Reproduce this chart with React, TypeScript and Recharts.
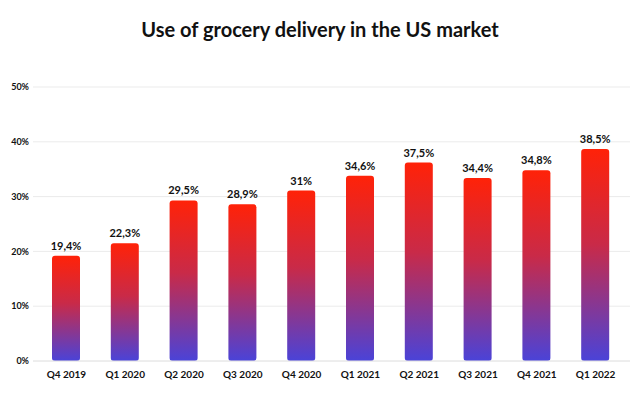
import React from "react";
import { BarChart, Bar, XAxis, YAxis, CartesianGrid, LabelList } from "recharts";

const quarters = ["Q4 2019", "Q1 2020", "Q2 2020", "Q3 2020", "Q4 2020", "Q1 2021", "Q2 2021", "Q3 2021", "Q4 2021", "Q1 2022"];
const barValues = [19.2, 21.5, 29.3, 28.6, 31.1, 33.8, 36.2, 33.4, 34.8, 38.7];
const labelTexts = ["19,4%", "22,3%", "29,5%", "28,9%", "31%", "34,6%", "37,5%", "34,4%", "34,8%", "38,5%"];
const yTicks = [0, 10, 20, 30, 40, 50];

const data = quarters.map((q, i) => ({ q, v: barValues[i], label: labelTexts[i] }));

const FONT = "Lato, 'Open Sans', sans-serif";

export default function App() {
  return (
    <div style={{ position: "absolute", left: 0, top: 0, width: 640, height: 396, background: "#fff", fontFamily: FONT }}>
      <div
        style={{
          position: "absolute",
          left: 0,
          top: 17,
          width: 640,
          textAlign: "center",
          fontSize: 20,
          fontWeight: 700,
          color: "#111",
          fontFamily: FONT,
        }}
      >
        Use of grocery delivery in the US market
      </div>
      <BarChart
        width={640}
        height={396}
        data={data}
        margin={{ top: 87, right: 10, bottom: 5, left: 0 }}
        barCategoryGap="26%"
      >
        <defs>
          <linearGradient id="barGrad" x1="0" y1="0" x2="0" y2="1">
            <stop offset="0%" stopColor="#ff2208" />
            <stop offset="45%" stopColor="#c92a48" />
            <stop offset="100%" stopColor="#4a43d8" />
          </linearGradient>
        </defs>
        <CartesianGrid vertical={false} stroke="#ebebeb" />
        <XAxis
          dataKey="q"
          tickLine={false}
          axisLine={{ stroke: "#e6e6e6" }}
          tickSize={0}
          tickMargin={10}
          height={30}
          padding={{ left: 4, right: 5 }}
          tick={{ fontSize: 10, fontWeight: 700, fill: "#111", fontFamily: FONT }}
          interval={0}
        />
        <YAxis
          domain={[0, 50]}
          ticks={yTicks}
          tickFormatter={(v: number) => `${v}%`}
          tickLine={false}
          axisLine={false}
          tickSize={0}
          tickMargin={4}
          width={33}
          tick={{ fontSize: 9, fontWeight: 700, fill: "#111", fontFamily: FONT }}
        />
        <Bar dataKey="v" fill="url(#barGrad)" radius={[3, 3, 3, 3]} isAnimationActive={false} barSize={28}>
          <LabelList
            dataKey="label"
            position="top"
            offset={6}
            style={{ fontSize: 11, fontWeight: 700, fill: "#111", fontFamily: FONT }}
          />
        </Bar>
      </BarChart>
    </div>
  );
}
